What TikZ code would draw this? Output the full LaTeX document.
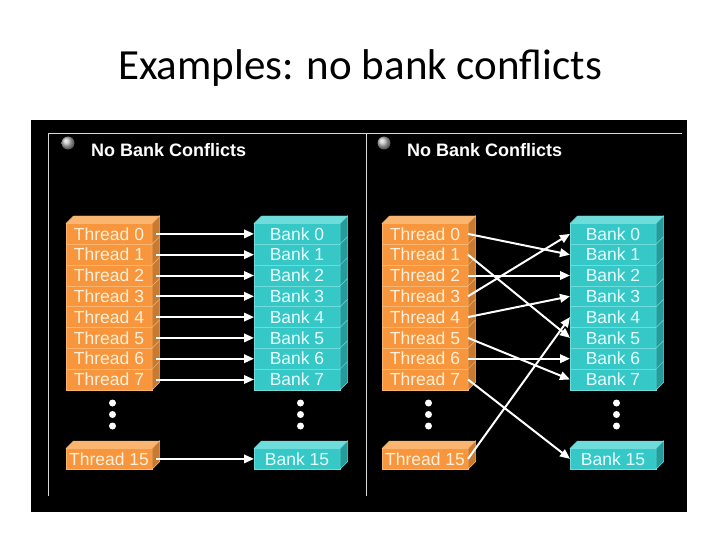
\documentclass[tikz,border=0pt]{standalone}
\usepackage{fontspec}
\setmainfont{Carlito}
\newfontfamily\arialfont{Liberation Sans}
\usetikzlibrary{arrows.meta, positioning, shadings}

\definecolor{thrfront}{HTML}{F7963C}
\definecolor{thrtop}{HTML}{FAB671}
\definecolor{thrside}{HTML}{C97A2F}
\definecolor{thrtext}{HTML}{FFF0DC}
\definecolor{bnkfront}{HTML}{36C7C7}
\definecolor{bnktop}{HTML}{6FDCDC}
\definecolor{bnkside}{HTML}{239C9C}
\definecolor{bnktext}{HTML}{E6FFFF}

\begin{document}
\begin{tikzpicture}[x=1pt,y=-1pt]
\tikzstyle{thread}=[rectangle,fill=thrfront,draw=thrtop,line width=0.5pt,outer sep=0pt,inner sep=0pt,minimum width=86pt,minimum height=20.8pt,text=thrtext,font=\arialfont\fontsize{17.5}{17.5}\selectfont]
\tikzstyle{bank}=[thread,fill=bnkfront,draw=bnktop,text=bnktext]
\tikzstyle{header}=[text=white,font=\arialfont\bfseries\fontsize{18}{18}\selectfont,anchor=base west,inner sep=0pt]
\tikzstyle{bullet}=[circle,inner sep=0pt,minimum size=13pt,shading=ball,ball color=white!75!black]
\tikzstyle{dot}=[circle,fill=white,inner sep=0pt,minimum size=7pt]
\tikzstyle{frame}=[draw=white!85!black,line width=0.8pt]
\tikzstyle{access}=[-{Triangle[length=10pt,width=8.5pt]},draw=white,fill=white,line width=2pt]

\useasboundingbox (0,0) rectangle (720,540);
\fill[white] (0,0) rectangle (720,540);

\node[font=\fontsize{43}{43}\selectfont,anchor=base] (title) at (360,80) {Examples: no bank conflicts};

\fill[black] (31,120) rectangle (687,512);
\draw[frame] (48,496) -- (48,133) -- (682,133);
\draw[frame] (366,133) -- (366,496);

% left panel
\node[bullet] (lball) at (68,143) {};
\node[header] (lhead) at (91,157) {No Bank Conflicts};

\node[thread,anchor=north west] (lt0) at (66,223.5) {Thread 0};
\node[thread,below=0pt of lt0] (lt1) {Thread 1};
\node[thread,below=0pt of lt1] (lt2) {Thread 2};
\node[thread,below=0pt of lt2] (lt3) {Thread 3};
\node[thread,below=0pt of lt3] (lt4) {Thread 4};
\node[thread,below=0pt of lt4] (lt5) {Thread 5};
\node[thread,below=0pt of lt5] (lt6) {Thread 6};
\node[thread,below=0pt of lt6] (lt7) {Thread 7};
\node[thread,anchor=north west] (lt15) at (66,448.5) {Thread 15};

\node[bank,anchor=north west] (lb0) at (254,223.5) {Bank 0};
\node[bank,below=0pt of lb0] (lb1) {Bank 1};
\node[bank,below=0pt of lb1] (lb2) {Bank 2};
\node[bank,below=0pt of lb2] (lb3) {Bank 3};
\node[bank,below=0pt of lb3] (lb4) {Bank 4};
\node[bank,below=0pt of lb4] (lb5) {Bank 5};
\node[bank,below=0pt of lb5] (lb6) {Bank 6};
\node[bank,below=0pt of lb6] (lb7) {Bank 7};
\node[bank,anchor=north west] (lb15) at (254,448.5) {Bank 15};

% right panel
\node[bullet] (rball) at (384,143) {};
\node[header] (rhead) at (407,157) {No Bank Conflicts};

\node[thread,anchor=north west] (rt0) at (382,223.5) {Thread 0};
\node[thread,below=0pt of rt0] (rt1) {Thread 1};
\node[thread,below=0pt of rt1] (rt2) {Thread 2};
\node[thread,below=0pt of rt2] (rt3) {Thread 3};
\node[thread,below=0pt of rt3] (rt4) {Thread 4};
\node[thread,below=0pt of rt4] (rt5) {Thread 5};
\node[thread,below=0pt of rt5] (rt6) {Thread 6};
\node[thread,below=0pt of rt6] (rt7) {Thread 7};
\node[thread,anchor=north west] (rt15) at (382,448.5) {Thread 15};

\node[bank,anchor=north west] (rb0) at (570,223.5) {Bank 0};
\node[bank,below=0pt of rb0] (rb1) {Bank 1};
\node[bank,below=0pt of rb1] (rb2) {Bank 2};
\node[bank,below=0pt of rb2] (rb3) {Bank 3};
\node[bank,below=0pt of rb3] (rb4) {Bank 4};
\node[bank,below=0pt of rb4] (rb5) {Bank 5};
\node[bank,below=0pt of rb5] (rb6) {Bank 6};
\node[bank,below=0pt of rb6] (rb7) {Bank 7};
\node[bank,anchor=north west] (rb15) at (570,448.5) {Bank 15};

% 3d faces of the blocks
\foreach \a/\b/\c in {lt0/lt7/thr,lt15/lt15/thr,lb0/lb7/bnk,lb15/lb15/bnk,rt0/rt7/thr,rt15/rt15/thr,rb0/rb7/bnk,rb15/rb15/bnk}{
  \fill[\c top,draw=\c top] (\a.north west) -- ++(7.5,-7.5) -- ([shift={(7.5,-7.5)}]\a.north east) -- (\a.north east) -- cycle;
  \fill[\c side,draw=\c top,line width=0.5pt] (\a.north east) -- ++(7.5,-7.5) -- ([shift={(7.5,-7.5)}]\b.south east) -- (\b.south east) -- cycle;
}
\foreach \n/\c in {lt/thr,lb/bnk,rt/thr,rb/bnk}
  \foreach \i in {1,...,7}
    \draw[\c top,line width=0.5pt] (\n\i.north east) -- ++(7.5,-7.5);

% dots
\node[dot] (ltd1) at (112.5,403) {};
\node[dot] (ltd2) at (112.5,414.5) {};
\node[dot] (ltd3) at (112.5,426) {};
\node[dot] (lbd1) at (300.5,403) {};
\node[dot] (lbd2) at (300.5,414.5) {};
\node[dot] (lbd3) at (300.5,426) {};
\node[dot] (rtd1) at (428.5,403) {};
\node[dot] (rtd2) at (428.5,414.5) {};
\node[dot] (rtd3) at (428.5,426) {};
\node[dot] (rbd1) at (616.5,403) {};
\node[dot] (rbd2) at (616.5,414.5) {};
\node[dot] (rbd3) at (616.5,426) {};

% accesses
\draw[access] ([xshift=4pt]lt0.east) -- (lb0.west);
\draw[access] ([xshift=4pt]lt1.east) -- (lb1.west);
\draw[access] ([xshift=4pt]lt2.east) -- (lb2.west);
\draw[access] ([xshift=4pt]lt3.east) -- (lb3.west);
\draw[access] ([xshift=4pt]lt4.east) -- (lb4.west);
\draw[access] ([xshift=4pt]lt5.east) -- (lb5.west);
\draw[access] ([xshift=4pt]lt6.east) -- (lb6.west);
\draw[access] ([xshift=4pt]lt7.east) -- (lb7.west);
\draw[access] ([xshift=4pt]lt15.east) -- (lb15.west);

\draw[access] (rt0.east) -- (rb1.west);
\draw[access] (rt1.east) -- (rb5.west);
\draw[access] (rt2.east) -- (rb2.west);
\draw[access] (rt3.east) -- (rb0.west);
\draw[access] (rt4.east) -- (rb3.west);
\draw[access] (rt5.east) -- (rb7.west);
\draw[access] (rt6.east) -- (rb6.west);
\draw[access] (rt7.east) -- (rb15.west);
\draw[access] (rt15.east) -- (rb4.west);
\end{tikzpicture}
\end{document}
